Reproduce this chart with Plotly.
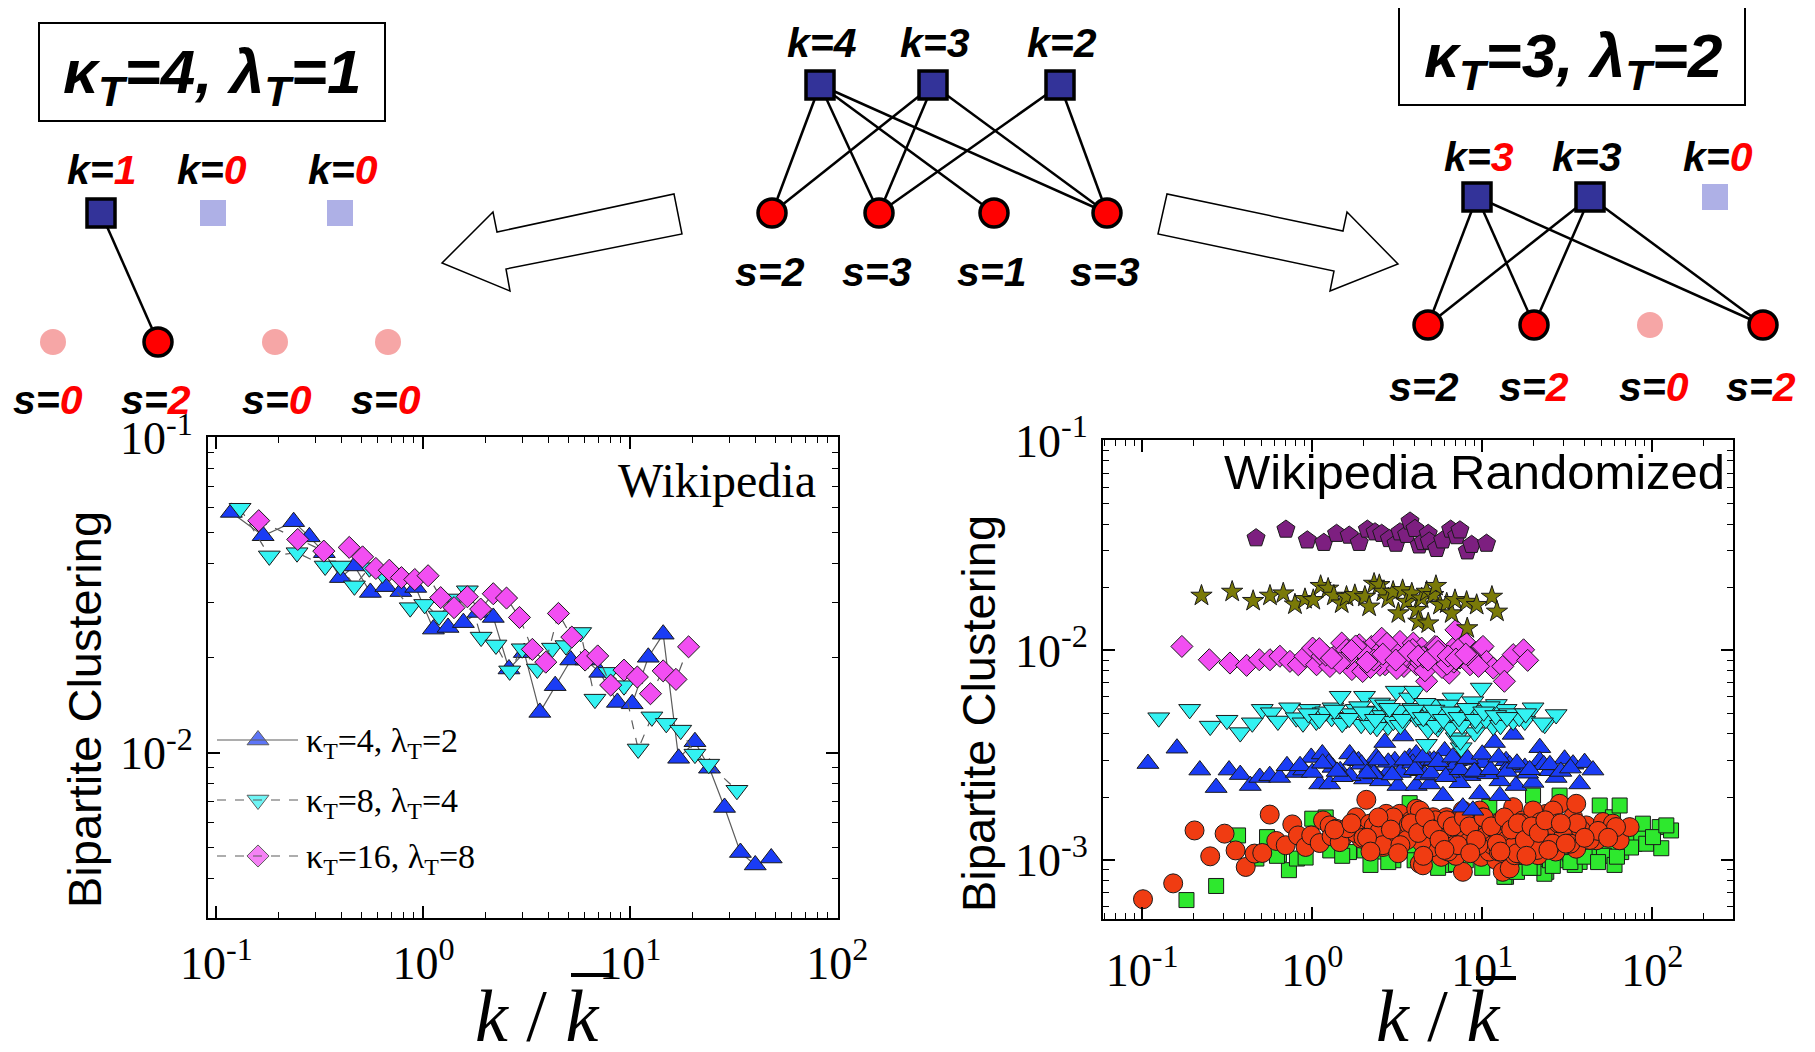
import plotly.graph_objects as go

W, H = 1815, 1052
OFF = 8  # the page body margin shifts the figure by this many pixels
FIG_W, FIG_H = W - OFF, H - OFF

# ---------------- data: left panel (Wikipedia) ----------------
L_BLUE_K = [0.118, 0.168, 0.236, 0.281, 0.332, 0.397, 0.464, 0.554, 0.658, 0.778, 0.918, 1.117, 1.315, 1.559,
            1.835, 2.175, 2.59, 3.07, 3.65, 4.33, 5.15, 6.09, 7.11, 8.65, 10.2, 12.2, 14.4, 17.1, 20.5, 24.1,
            28.5, 34.0, 40.1, 47.9]
L_BLUE_C = [0.0580, 0.0489, 0.0542, 0.0485, 0.0432, 0.0360, 0.0392, 0.0323, 0.0337, 0.0325, 0.0335, 0.0247,
            0.0250, 0.0259, 0.0279, 0.0269, 0.01845, 0.0208, 0.01343, 0.01633, 0.0197, 0.0197, 0.0180, 0.01445,
            0.0143, 0.0201, 0.0238, 0.0096, 0.01084, 0.00893, 0.0067, 0.00482, 0.0044, 0.00463]
L_CYAN_K = [0.130, 0.180, 0.245, 0.335, 0.397, 0.464, 0.548, 0.634, 0.863, 1.014, 1.19, 1.406, 1.63, 1.90,
            2.24, 2.61, 3.00, 3.55, 4.20, 4.88, 5.75, 6.74, 7.88, 9.31, 10.9, 12.7, 14.9, 17.5, 20.5, 23.9, 32.7]
L_CYAN_C = [0.0598, 0.0422, 0.0432, 0.0392, 0.0392, 0.0339, 0.0387, 0.0370, 0.0289, 0.0296, 0.0272, 0.0308,
            0.0327, 0.0233, 0.0220, 0.0182, 0.0214, 0.01845, 0.0215, 0.0219, 0.0241, 0.0148, 0.0180, 0.01633,
            0.01028, 0.0130, 0.0124, 0.0118, 0.0099, 0.0092, 0.0076]
L_MAG_K = [0.160, 0.247, 0.330, 0.438, 0.508, 0.589, 0.684, 0.783, 0.908, 1.053, 1.211, 1.406, 1.63, 1.89,
           2.175, 2.52, 2.91, 3.36, 3.90, 4.49, 5.21, 6.04, 6.95, 8.03, 9.31, 10.8, 12.5, 14.4, 16.6, 19.1]
L_MAG_C = [0.0546, 0.0476, 0.0437, 0.0449, 0.0419, 0.0385, 0.0380, 0.0360, 0.0355, 0.0365, 0.0311, 0.0289,
           0.0313, 0.0286, 0.0320, 0.0310, 0.0269, 0.0213, 0.0194, 0.0277, 0.0233, 0.0197, 0.0203, 0.0164,
           0.0183, 0.0174, 0.0154, 0.0182, 0.0171, 0.0217]
L_LEGEND = ["κ<sub>T</sub>=4, λ<sub>T</sub>=2", "κ<sub>T</sub>=8, λ<sub>T</sub>=4", "κ<sub>T</sub>=16, λ<sub>T</sub>=8"]

# ---------------- data: right panel (Wikipedia Randomized) ----------------
R_PENT_K = [0.467, 0.700, 0.935, 1.17, 1.39, 1.65, 1.89, 2.11, 2.34, 2.56, 2.84, 3.11, 3.28, 3.59, 3.76, 4.02,
            4.26, 4.49, 4.81, 4.88, 5.39, 5.85, 6.52, 7.07, 7.39, 8.16, 8.66, 10.6]
R_PENT_C = [0.0343, 0.0377, 0.0335, 0.0326, 0.0360, 0.0353, 0.0326, 0.0377, 0.0366, 0.0360, 0.0340, 0.0323,
            0.0366, 0.0356, 0.0412, 0.0380, 0.0317, 0.0329, 0.0360, 0.0331, 0.0305, 0.0335, 0.0377, 0.0351,
            0.0374, 0.0297, 0.0319, 0.0323]
R_STAR_K = [0.223, 0.338, 0.449, 0.564, 0.675, 0.791, 0.906, 1.014, 1.12, 1.24, 1.34, 1.49, 1.59, 1.78, 2.04,
            2.16, 2.31, 2.48, 2.62, 2.80, 2.99, 3.21, 3.40, 3.59, 3.85, 4.11, 4.21, 4.40, 4.71, 4.81, 5.15, 5.34,
            5.64, 6.18, 6.61, 6.91, 8.09, 8.16, 9.27, 11.4, 12.2]
R_STAR_C = [0.01824, 0.01905, 0.01722, 0.01824, 0.0187, 0.01656, 0.01758, 0.01739, 0.0203, 0.0197, 0.01824,
            0.01675, 0.01803, 0.01837, 0.01803, 0.01618, 0.0208, 0.0205, 0.01905, 0.0177, 0.01905, 0.01503,
            0.0194, 0.01706, 0.0187, 0.01560, 0.01371, 0.0177, 0.01905, 0.01346, 0.01837, 0.0203, 0.01648,
            0.01675, 0.01503, 0.01739, 0.01706, 0.01276, 0.01648, 0.01803, 0.01531]
R_DIAM_K = [0.171, 0.248, 0.328, 0.411, 0.488, 0.564, 0.645, 0.739, 0.828, 0.906, 1.005, 1.06, 1.14, 1.27, 1.38,
            1.49, 1.59, 1.71, 1.89, 1.98, 2.09, 2.23, 2.39, 2.56, 2.68, 2.87, 3.06, 3.28, 3.46, 3.72, 3.93, 4.11,
            4.40, 4.71, 4.92, 5.27, 5.64, 5.90, 6.40, 6.75, 7.00, 7.39, 8.01, 8.47, 9.06, 9.88, 10.1, 10.6, 11.6,
            13.2, 13.5, 15.2, 17.5, 18.5,
            1.2, 1.6, 2.0, 2.5, 3.0, 3.6, 4.3, 5.0, 6.0, 7.5, 2.2, 3.3, 4.6, 5.8, 6.8,
            1.1, 1.45, 1.8, 2.3, 2.75, 3.15, 3.9, 4.5, 5.4, 6.2, 7.2, 8.6, 9.5,
            1.3, 1.7, 2.1, 2.6, 3.1, 3.7, 4.2, 4.8, 5.5, 6.3, 7.0, 8.0]
R_DIAM_C = [0.01045, 0.00903, 0.00871, 0.00849, 0.00903, 0.00903, 0.00938, 0.00887, 0.00855, 0.00938, 0.01026,
            0.00855, 0.00938, 0.00839, 0.00955, 0.01084, 0.01007, 0.00811, 0.01064, 0.00794, 0.00920, 0.01045,
            0.00955, 0.01143, 0.00855, 0.01045, 0.00920, 0.01104, 0.00839, 0.00989, 0.01084, 0.00855, 0.01026,
            0.00713, 0.00920, 0.01045, 0.00855, 0.00955, 0.00780, 0.01026, 0.01253, 0.00920, 0.01084, 0.00855,
            0.00970, 0.01026, 0.01045, 0.00887, 0.00824, 0.00839, 0.00713, 0.00955, 0.01007, 0.00897,
            0.0095, 0.0092, 0.0098, 0.0085, 0.0100, 0.0093, 0.0088, 0.0097, 0.0090, 0.0097, 0.0083, 0.0089,
            0.0080, 0.0083, 0.0088,
            0.0102, 0.0087, 0.0105, 0.0090, 0.0108, 0.0082, 0.0101, 0.0093, 0.0104, 0.0086, 0.0101, 0.0092, 0.0084,
            0.0092, 0.0100, 0.0088, 0.0096, 0.0090, 0.0099, 0.0094, 0.0090, 0.0099, 0.0094, 0.0091, 0.0096]
R_DOWN_K = [0.125, 0.190, 0.251, 0.315, 0.377, 0.444, 0.508, 0.574, 0.628, 0.736, 0.805, 0.882, 0.966, 1.056,
            1.157, 1.324, 1.46, 1.585, 1.815, 2.03, 1.94, 2.28, 2.49, 2.79, 3.12, 3.42, 3.74, 4.09, 4.00, 4.69,
            5.13, 6.14, 6.73, 7.52, 8.05, 9.02, 9.86, 10.8, 12.1, 13.8, 15.2, 17.8, 19.9, 23.3, 27.2, 4.29, 5.48,
            7.03, 11.6, 7.43, 5.58, 9.33, 22.6,
            1.3, 1.7, 2.1, 2.6, 3.0, 3.5, 4.4, 5.0, 6.0, 7.0, 8.5, 10.5, 2.4, 3.2, 4.8, 6.5, 9.5,
            1.2, 1.5, 1.9, 2.2, 2.7, 3.3, 3.9, 4.6, 5.3, 6.3, 7.6, 8.8, 11.0, 12.8, 14.5, 16.5,
            0.95, 1.1, 1.35, 1.65, 2.0, 2.35, 2.85, 3.4, 3.95, 4.5, 5.2, 5.9, 6.6, 7.3, 8.2, 9.1, 10.2, 12.0,
            14.0, 18.0]
R_DOWN_C = [0.00478, 0.00524, 0.00436, 0.00465, 0.00406, 0.00452, 0.00524, 0.00505, 0.00461, 0.00533, 0.00478,
            0.00452, 0.00524, 0.00461, 0.00505, 0.00533, 0.00605, 0.00470, 0.00524, 0.00605, 0.00445, 0.00514,
            0.00562, 0.00436, 0.00640, 0.00505, 0.00594, 0.00478, 0.00640, 0.00357, 0.00553, 0.00461, 0.00594,
            0.00344, 0.00514, 0.00406, 0.00662, 0.00495, 0.00553, 0.00524, 0.00461, 0.00461, 0.00533, 0.00445,
            0.00495, 0.00514, 0.00428, 0.00384, 0.00436, 0.00371, 0.00452, 0.00445, 0.00452,
            0.0048, 0.0050, 0.0047, 0.0049, 0.0046, 0.0049, 0.0046, 0.0049, 0.0050, 0.0047, 0.0049, 0.0047,
            0.0043, 0.0052, 0.0042, 0.0043, 0.0052,
            0.0051, 0.0045, 0.0054, 0.0044, 0.0055, 0.0044, 0.0053, 0.0056, 0.0044, 0.0055, 0.0044, 0.0057,
            0.0054, 0.0044, 0.0050, 0.0048,
            0.00500, 0.00470, 0.00520, 0.00475, 0.00510, 0.00470, 0.00530, 0.00470, 0.00520, 0.00480, 0.00520,
            0.00470, 0.00510, 0.00480, 0.00530, 0.00470, 0.00510, 0.00490, 0.00480, 0.00500]
R_UP_K = [0.108, 0.160, 0.218, 0.272, 0.324, 0.377, 0.432, 0.491, 0.562, 0.643, 0.710, 0.805, 0.890, 0.986,
          1.106, 1.146, 1.265, 1.324, 1.46, 1.66, 1.87, 2.03, 2.18, 2.38, 2.67, 2.85, 3.19, 3.42, 3.74, 4.09,
          4.09, 4.91, 5.87, 6.01, 7.03, 7.69, 8.81, 9.66, 10.1, 11.8, 12.7, 13.8, 15.2, 15.8, 17.8, 19.9, 21.8,
          21.8, 24.9, 27.2, 30.5, 34.2, 37.4, 40.0, 44.8,
          0.848, 1.67, 2.52, 4.31, 5.64, 8.47, 12.7, 7.39, 3.06, 4.92,
          1.0, 1.25, 1.5, 1.95, 2.3, 2.8, 3.3, 3.9, 4.6, 5.2, 6.4, 7.0, 8.0, 9.2, 10.8, 14.5, 18.5, 23.0,
          1.15, 1.4, 1.75, 2.1, 2.45, 2.95, 3.5, 4.0, 4.5, 5.0, 5.5, 6.1, 6.7, 7.4, 8.2, 9.0, 10.0, 11.2,
          12.5, 14.0, 16.0, 19.0, 25.0, 29.0, 33.0]
R_UP_C = [0.00289, 0.00342, 0.00269, 0.00222, 0.00269, 0.00256, 0.00227, 0.00248, 0.00253, 0.00248, 0.00282,
          0.00262, 0.00269, 0.00309, 0.00231, 0.00321, 0.00231, 0.00277, 0.00267, 0.00321, 0.00298, 0.00244,
          0.00277, 0.00309, 0.00364, 0.00267, 0.00227, 0.00391, 0.00309, 0.00227, 0.00321, 0.00231, 0.00203,
          0.00332, 0.00298, 0.00179, 0.00173, 0.00207, 0.00292, 0.00364, 0.00203, 0.00298, 0.00398, 0.00227,
          0.00277, 0.00235, 0.00344, 0.00298, 0.00267, 0.00248, 0.00303, 0.00287, 0.00231, 0.00292, 0.00269,
          0.00282, 0.00253, 0.00239, 0.00267, 0.00282, 0.00253, 0.00239, 0.00234, 0.00298, 0.00298,
          0.00262, 0.00290, 0.00250, 0.00287, 0.00258, 0.00293, 0.00262, 0.00290, 0.00255, 0.00300, 0.00262,
          0.00286, 0.00300, 0.00262, 0.00258, 0.00285, 0.00260, 0.00285,
          0.00290, 0.00265, 0.00300, 0.00260, 0.00300, 0.00255, 0.00300, 0.00270, 0.00310, 0.00260, 0.00295,
          0.00250, 0.00310, 0.00270, 0.00305, 0.00265, 0.00320, 0.00270, 0.00310, 0.00265, 0.00290, 0.00270,
          0.00285, 0.00265, 0.00275]
R_CIRC_K = [0.101, 0.152, 0.203, 0.251, 0.305, 0.354, 0.406, 0.458, 0.508, 0.562, 0.614, 0.698, 0.763, 0.824,
            0.914, 0.986, 1.106, 1.157, 1.265, 1.384, 1.516, 1.66, 1.815, 1.94, 2.08, 2.18, 2.33, 2.61, 2.72,
            2.98, 3.27, 3.50, 3.82, 4.09, 4.29, 4.48, 5.74, 6.89, 7.69, 8.61, 9.86, 11.1, 12.1, 13.2, 14.5, 15.5,
            15.2, 17.3, 21.3, 23.8, 27.2, 28.5, 31.2, 34.2, 35.7, 35.7, 40.9, 46.9, 51.3, 58.7, 64.3, 73.6, 6.73,
            8.81, 5.13, 4.29, 6.14, 7.69, 9.66, 12.7, 19.9, 26.1, 18.6, 26.1, 11.6, 5.13, 6.14, 9.23, 61.2,
            1.8, 2.3, 2.8, 3.4, 4.0, 4.7, 5.5, 6.5, 7.3, 8.0, 9.0, 10.5, 12.0, 14.0, 16.5, 20.0, 24.0, 30.0, 38.0,
            1.3, 3.0, 5.0, 7.0, 11.0, 18.0,
            1.45, 2.0, 2.5, 3.1, 3.7, 4.4, 5.3, 6.0, 6.9, 7.9, 8.9, 10.0, 11.5, 13.0, 15.0, 17.0, 19.0, 22.0,
            25.0, 28.0, 32.0, 36.0, 43.0, 48.0, 55.0, 1.6, 2.6, 3.6, 4.9, 6.3, 8.3, 9.5, 12.5, 16.0, 21.0, 27.0,
            1.35, 1.7, 2.1, 2.45, 2.9, 3.3, 3.8, 4.2, 4.6, 5.1, 5.6, 6.2, 6.7, 7.2, 7.8, 8.4, 9.2, 10.2, 11.3,
            12.2, 13.5, 14.8, 16.2, 17.8, 19.5, 21.5, 23.5, 26.0, 29.0, 33.0, 2.2, 3.2, 4.5, 6.0, 8.5, 12.8,
            18.2, 24.5, 31.0, 40.0]
R_CIRC_C = [0.000652, 0.000776, 0.001387, 0.001044, 0.001339, 0.001114, 0.000929, 0.001076, 0.001083, 0.001651,
            0.001236, 0.001179, 0.001482, 0.001313, 0.001157, 0.001313, 0.001208, 0.001548, 0.001466, 0.001413,
            0.001289, 0.001387, 0.001603, 0.001267, 0.001941, 0.001494, 0.001339, 0.001157, 0.001664, 0.001439,
            0.001664, 0.001361, 0.001548, 0.001758, 0.000964, 0.000946, 0.001038, 0.001057, 0.000881, 0.001114,
            0.001038, 0.001387, 0.001002, 0.000881, 0.000914, 0.001057, 0.001791, 0.001548, 0.001057, 0.001664,
            0.001439, 0.001858, 0.001387, 0.001603, 0.001858, 0.001135, 0.001466, 0.001245, 0.001521, 0.001494,
            0.001245, 0.001439, 0.001289, 0.001439, 0.001603, 0.001726, 0.001603, 0.001726, 0.001726, 0.001494,
            0.001726, 0.001726, 0.001289, 0.001199, 0.001245, 0.001245, 0.001387, 0.001289, 0.001439,
            0.00135, 0.00145, 0.00125, 0.00140, 0.00130, 0.00150, 0.00135, 0.00120, 0.00145, 0.00130, 0.00150,
            0.00130, 0.00140, 0.00125, 0.00135, 0.00125, 0.00140, 0.00130, 0.00140, 0.00130, 0.00160, 0.00115,
            0.00105, 0.00110, 0.00115,
            0.00122, 0.00128, 0.00138, 0.00120, 0.00148, 0.00122, 0.00155, 0.00128, 0.00118, 0.00155, 0.00122,
            0.00160, 0.00118, 0.00155, 0.00115, 0.00150, 0.00118, 0.00152, 0.00120, 0.00150, 0.00120, 0.00150,
            0.00125, 0.00138, 0.00128, 0.00142, 0.00118, 0.00125, 0.00143, 0.00110, 0.00122, 0.00118, 0.00110,
            0.00108, 0.00112, 0.00110,
            0.00140, 0.00150, 0.00128, 0.00160, 0.00140, 0.00118, 0.00150, 0.00135, 0.00160, 0.00140, 0.00125,
            0.00155, 0.00145, 0.00118, 0.00160, 0.00145, 0.00125, 0.00160, 0.00145, 0.00120, 0.00160, 0.00140,
            0.00150, 0.00125, 0.00145, 0.00135, 0.00155, 0.00120, 0.00150, 0.00120, 0.00110, 0.00108, 0.00105,
            0.00112, 0.00108, 0.00110, 0.00105, 0.00112, 0.00120, 0.00128]
R_SQ_K = [0.182, 0.272, 0.366, 0.542, 0.637, 0.729, 0.813, 0.914, 1.000, 1.276, 1.644, 2.03, 3.50, 3.74, 4.09,
          0.469, 3.91, 6.73, 7.69, 10.6, 13.8, 18.2, 19.9, 23.8, 27.9, 28.5, 32.7, 37.4, 42.9, 49.1, 58.7, 64.3,
          65.7, 78.7, 84.3, 88.1, 92.2, 110.6, 113, 129, 38.2, 27.9, 22.7, 40.9, 49.1, 70.3, 101, 121, 23.2, 13.5,
          1.5, 2.5, 3.0, 5.0, 6.0, 8.0, 9.0, 12.0, 15.0, 17.0, 25.0, 30.0, 45.0, 55.0, 1.2, 0.62, 11.0, 8.0,
          20.0, 35.0, 52.0, 60.0, 75.0, 16.0, 4.5, 2.2,
          2.8, 4.0, 5.5, 7.0, 10.0, 14.0, 19.0, 26.0, 33.0, 40.0, 48.0, 62.0]
R_SQ_C = [0.000646, 0.000754, 0.001313, 0.001289, 0.001067, 0.000897, 0.001019, 0.001030, 0.001578, 0.001114,
          0.001094, 0.001114, 0.001199, 0.001871, 0.001114, 0.001019, 0.001114, 0.001114, 0.000897, 0.001000,
          0.000834, 0.001038, 0.002033, 0.000881, 0.001000, 0.002033, 0.001076, 0.000982, 0.001114, 0.001824,
          0.001603, 0.001824, 0.001094, 0.001199, 0.001313, 0.001494, 0.001199, 0.001439, 0.001141, 0.001387,
          0.001141, 0.001199, 0.001038, 0.001289, 0.001361, 0.001339, 0.001289, 0.001466, 0.000862, 0.000834,
          0.00105, 0.00110, 0.00100, 0.00105, 0.00095, 0.00100, 0.00110, 0.00105, 0.00095, 0.00110, 0.00100,
          0.00110, 0.00105, 0.00120, 0.00160, 0.00105, 0.00180, 0.00170,
          0.00092, 0.00095, 0.00105, 0.00095, 0.00115, 0.00088, 0.00098, 0.00095,
          0.00098, 0.00100, 0.00092, 0.00096, 0.00092, 0.00098, 0.00092, 0.00094, 0.00098, 0.00104, 0.00098,
          0.00104]

# tick labels
X_TICKS = [0.1, 1, 10, 100]
X_TICKTEXT = ["10<sup>-1</sup>", "10<sup>0</sup>", "10<sup>1</sup>", "10<sup>2</sup>"]
LY_TICKS = [0.01, 0.1]
LY_TICKTEXT = ["10<sup>-2</sup>", "10<sup>-1</sup>"]
RY_TICKS = [0.001, 0.01, 0.1]
RY_TICKTEXT = ["10<sup>-3</sup>", "10<sup>-2</sup>", "10<sup>-1</sup>"]

# ---------------- figure ----------------
fig = go.Figure()

def px(x):
    return (x - OFF) / FIG_W

def py(y):
    return 1 - (y - OFF) / FIG_H

LINE_GRAY = "#5c5c5c"
BLUE = "#1a3cf5"
CYAN = "#33f2f2"
MAGENTA = "#f24ef2"
EDGE = "#1a1a1a"

# left panel
fig.add_trace(go.Scatter(x=L_BLUE_K, y=L_BLUE_C, mode="lines+markers", xaxis="x", yaxis="y",
                         line=dict(color=LINE_GRAY, width=1.2),
                         marker=dict(symbol="triangle-up", size=19, color=BLUE, line=dict(color=EDGE, width=1))))
fig.add_trace(go.Scatter(x=L_CYAN_K, y=L_CYAN_C, mode="lines+markers", xaxis="x", yaxis="y",
                         line=dict(color=LINE_GRAY, width=1.2, dash="dash"),
                         marker=dict(symbol="triangle-down", size=19, color=CYAN, line=dict(color=EDGE, width=1))))
fig.add_trace(go.Scatter(x=L_MAG_K, y=L_MAG_C, mode="lines+markers", xaxis="x", yaxis="y",
                         line=dict(color=LINE_GRAY, width=1.2, dash="dash"),
                         marker=dict(symbol="diamond", size=17, color=MAGENTA, line=dict(color=EDGE, width=1))))

# right panel
right_series = [
    (R_SQ_K, R_SQ_C, "square", 15, "#2ee82e"),
    (R_CIRC_K, R_CIRC_C, "circle", 19, "#f03c12"),
    (R_UP_K, R_UP_C, "triangle-up", 19, BLUE),
    (R_DOWN_K, R_DOWN_C, "triangle-down", 19, CYAN),
    (R_DIAM_K, R_DIAM_C, "diamond", 17, MAGENTA),
    (R_STAR_K, R_STAR_C, "star", 16, "#7a7a08"),
    (R_PENT_K, R_PENT_C, "pentagon", 19, "#7d1f80"),
]
for kx, cy, sym, sz, col in right_series:
    fig.add_trace(go.Scatter(x=kx, y=cy, mode="markers", xaxis="x2", yaxis="y2",
                             marker=dict(symbol=sym, size=sz, color=col, line=dict(color=EDGE, width=1))))

# legend samples of the left panel (on a full-figure pixel overlay axis)
LEG_Y = [740, 800, 856]
fig.add_trace(go.Scatter(x=[258, 258, 258], y=LEG_Y, mode="markers", xaxis="x3", yaxis="y3",
                         marker=dict(symbol=["triangle-up", "triangle-down", "diamond"], size=[19, 19, 17],
                                     color=[BLUE, CYAN, MAGENTA], line=dict(color=EDGE, width=1))))

axis_common = dict(type="log", showline=True, linecolor="black", linewidth=2, mirror="allticks",
                   ticks="inside", ticklen=12, tickwidth=1.5, tickcolor="black", showgrid=False,
                   zeroline=False, automargin=False,
                   tickfont=dict(family="Liberation Serif", size=46, color="black"))

def minor_vals(decades):
    out = []
    for d in decades:
        for m in range(2, 10):
            out.append(round(m * d, 10))
    return out

fig.update_layout(
    width=FIG_W, height=FIG_H, margin=dict(l=0, r=0, t=0, b=0, pad=0, autoexpand=False),
    paper_bgcolor="white", plot_bgcolor="rgba(0,0,0,0)", showlegend=False,
    xaxis=dict(axis_common, domain=[px(208), px(838)], range=[-1.041, 2.003], anchor="y",
               tickvals=X_TICKS, ticktext=X_TICKTEXT, ticklabelstandoff=4,
               minor=dict(ticks="inside", ticklen=6, tickwidth=1, tickcolor="black",
                          tickvals=minor_vals([0.1, 1, 10]), showgrid=False)),
    yaxis=dict(axis_common, domain=[py(918), py(437)], range=[-2.525, -0.997], anchor="x",
               tickvals=LY_TICKS, ticktext=LY_TICKTEXT, ticklabelstandoff=4,
               minor=dict(ticks="inside", ticklen=6, tickwidth=1, tickcolor="black",
                          tickvals=minor_vals([0.001, 0.01]), showgrid=False)),
    xaxis2=dict(axis_common, domain=[px(1103), px(1733)], range=[-1.231, 2.475], anchor="y2",
                tickvals=X_TICKS, ticktext=X_TICKTEXT, ticklabelstandoff=10,
                minor=dict(ticks="inside", ticklen=6, tickwidth=1, tickcolor="black",
                           tickvals=minor_vals([0.01, 0.1, 1, 10, 100]), showgrid=False)),
    yaxis2=dict(axis_common, domain=[py(919), py(440)], range=[-3.28, -0.997], anchor="x2",
                tickvals=RY_TICKS, ticktext=RY_TICKTEXT, ticklabelstandoff=4,
                minor=dict(ticks="inside", ticklen=6, tickwidth=1, tickcolor="black",
                           tickvals=minor_vals([0.0001, 0.001, 0.01]), showgrid=False)),
    xaxis3=dict(domain=[0, 1], range=[OFF, OFF + FIG_W], visible=False, anchor="y3", fixedrange=True,
                automargin=False),
    yaxis3=dict(domain=[0, 1], range=[OFF + FIG_H, OFF], visible=False, anchor="x3", fixedrange=True,
                automargin=False),
)

shapes = []
annotations = []

def seg(x0, y0, x1, y1, width=2.5, color="black", dash=None):
    d = dict(type="line", xref="paper", yref="paper", x0=px(x0), y0=py(y0), x1=px(x1), y1=py(y1),
             line=dict(color=color, width=width))
    if dash:
        d["line"]["dash"] = dash
    shapes.append(d)

def square(cx, cy, half=14, fill="#333399", lw=3.5, line="black"):
    shapes.append(dict(type="rect", xref="paper", yref="paper", x0=px(cx - half), x1=px(cx + half),
                       y0=py(cy + half), y1=py(cy - half), fillcolor=fill,
                       line=dict(color=line, width=lw)))

def circle(cx, cy, r=14, fill="#ff0000", lw=3.5, line="black"):
    shapes.append(dict(type="circle", xref="paper", yref="paper", x0=px(cx - r), x1=px(cx + r),
                       y0=py(cy + r), y1=py(cy - r), fillcolor=fill,
                       line=dict(color=line, width=lw)))

def faded_square(cx, cy):
    square(cx, cy, half=13, fill="#aeb0e6", lw=0, line="rgba(0,0,0,0)")

def faded_circle(cx, cy):
    circle(cx, cy, r=13, fill="#f6a6a6", lw=0, line="rgba(0,0,0,0)")

def text(x, y, t, size=41, family="Liberation Sans", color="black", xanchor="center", angle=0):
    annotations.append(dict(x=px(x), y=py(y), xref="paper", yref="paper", text=t, showarrow=False,
                            xanchor=xanchor, yanchor="middle", textangle=angle,
                            font=dict(family=family, size=size, color=color)))

def lab(prefix, val, red):
    v = f"<span style='color:#ff0000'>{val}</span>" if red else val
    return f"<b><i>{prefix}={v}</i></b>"

def arrow(pts):
    path = "M " + " L ".join(f"{px(x):.5f},{py(y):.5f}" for x, y in pts) + " Z"
    shapes.append(dict(type="path", xref="paper", yref="paper", path=path, fillcolor="white",
                       line=dict(color="black", width=1.5)))

# ---- centre bipartite graph ----
C_SQ = [(820, 85), (933, 85), (1060, 85)]
C_CI = [(772, 213), (879, 213), (994, 213), (1107, 213)]
C_EDGES = [(0, 0), (0, 1), (0, 2), (0, 3), (1, 0), (1, 1), (1, 3), (2, 1), (2, 3)]
for a, b in C_EDGES:
    seg(*C_SQ[a], *C_CI[b])
for p in C_SQ:
    square(*p)
for p in C_CI:
    circle(*p)
for (x, _), v in zip(C_SQ, ["4", "3", "2"]):
    text(x + 2, 43, lab("k", v, False))
for (x, _), v in zip(C_CI, ["2", "3", "1", "3"]):
    text(x - 2, 272, lab("s", v, False))

# ---- left reduced graph ----
shapes.append(dict(type="rect", xref="paper", yref="paper", x0=px(39), x1=px(385), y0=py(121), y1=py(23),
                   line=dict(color="black", width=2), fillcolor="rgba(0,0,0,0)"))
text(212, 76, "<b><i>κ<sub>T</sub>=4, λ<sub>T</sub>=1</i></b>", size=62)
seg(101, 213, 158, 342)
square(101, 213)
faded_square(213, 213)
faded_square(340, 213)
faded_circle(53, 342)
circle(158, 342)
faded_circle(275, 342)
faded_circle(388, 342)
for x, v in zip([102, 212, 343], ["1", "0", "0"]):
    text(x, 170, lab("k", v, True))
for x, v in zip([48, 156, 277, 386], ["0", "2", "0", "0"]):
    text(x, 400, lab("s", v, True))

# ---- right reduced graph ----
shapes.append(dict(type="rect", xref="paper", yref="paper", x0=px(1399), x1=px(1745), y0=py(105), y1=py(7),
                   line=dict(color="black", width=2), fillcolor="rgba(0,0,0,0)"))
text(1573, 60, "<b><i>κ<sub>T</sub>=3, λ<sub>T</sub>=2</i></b>", size=62)
R_SQ = [(1477, 197), (1590, 197)]
R_CI = [(1428, 325), (1534, 325), (1763, 325)]
for s in R_SQ:
    for c in R_CI:
        seg(*s, *c)
for p in R_SQ:
    square(*p)
faded_square(1715, 197)
for p in R_CI:
    circle(*p)
faded_circle(1650, 325)
for x, v, r in zip([1479, 1587, 1718], ["3", "3", "0"], [True, False, True]):
    text(x, 157, lab("k", v, r))
for x, v, r in zip([1424, 1534, 1654, 1761], ["2", "2", "0", "2"], [False, True, True, True]):
    text(x, 387, lab("s", v, r))

# ---- arrows ----
arrow([(674, 194), (682, 234), (506, 269), (510, 291), (442, 263), (493, 212), (497, 232)])
arrow([(1167, 194), (1158, 234), (1334, 271), (1330, 291), (1398, 264), (1347, 212), (1343, 231)])

# ---- panel texts ----
text(818, 480, "Wikipedia", size=48, family="Liberation Serif", xanchor="right")
text(1727, 472, "Wikipedia Randomized", size=49, family="Liberation Sans", xanchor="right")
text(84, 710, "Bipartite Clustering", size=47, angle=-90)
text(978, 714, "Bipartite Clustering", size=47, angle=-90)
text(537, 1016, "<i>k</i> / <i>k</i>", size=74, family="Liberation Serif")
text(1438, 1016, "<i>k</i> / <i>k</i>", size=74, family="Liberation Serif")
seg(571, 975, 613, 975, width=4)
seg(1476, 978, 1516, 978, width=4)

# legend of left panel
for yy, dash, lbl in zip(LEG_Y, [None, "dash", "dash"], L_LEGEND):
    seg(217, yy, 298, yy, width=1.2, color=LINE_GRAY, dash=dash)
    text(304, yy + 3, lbl, size=34, family="Liberation Serif", xanchor="left")

fig.update_layout(shapes=shapes, annotations=annotations)
fig.write_html("out.html")
